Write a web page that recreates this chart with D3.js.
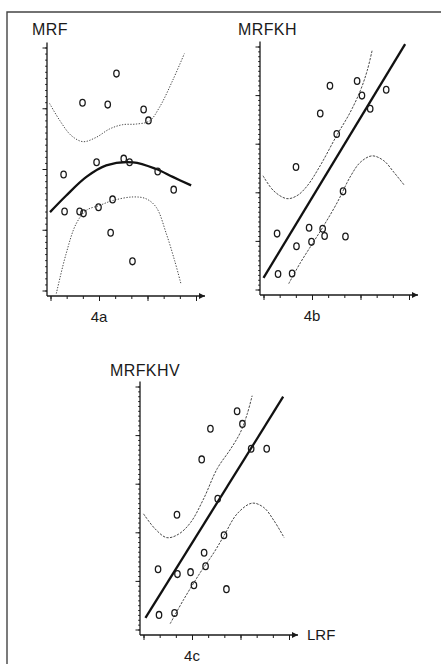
<!DOCTYPE html>
<html>
<head>
<meta charset="utf-8">
<script src="https://cdn.jsdelivr.net/npm/d3@7"></script>
<style>
  html, body { margin: 0; padding: 0; background: #fff; }
  svg { display: block; }
  text { font-family: "Liberation Sans", Arial, Helvetica, sans-serif; fill: #1a1a1a; }
</style>
</head>
<body>
<div id="chart"></div>
<script>
// --- DATA (LRF on x in major-tick units, MR* on y in major-tick units) ---

// 4a : MRF vs LRF
const lrfA = [1.36, 0.66, 1.18, 1.92, 2.02, 0.27, 0.95, 1.51, 1.63, 2.21, 2.54, 0.29, 0.60, 0.68, 0.99, 1.28, 1.24, 1.69];
const mrfA = [3.57, 3.09, 3.06, 2.98, 2.80, 1.91, 2.11, 2.17, 2.11, 1.96, 1.66, 1.30, 1.30, 1.27, 1.37, 1.50, 0.95, 0.48];
const fitA = [[-0.01, 1.29], [0.32, 1.56], [0.74, 1.87], [1.15, 2.06], [1.70, 2.11], [2.18, 2.00], [2.52, 1.87], [2.90, 1.73]];
const upperA = [[-0.02, 3.08], [0.19, 2.80], [0.43, 2.55], [0.67, 2.45], [0.94, 2.52], [1.22, 2.66], [1.49, 2.73],
                [1.77, 2.74], [2.04, 2.79], [2.25, 3.02], [2.52, 3.46], [2.76, 3.90]];
const lowerA = [[0.12, -0.05], [0.32, 0.60], [0.53, 1.10], [0.74, 1.32], [1.01, 1.40], [1.28, 1.48], [1.70, 1.54],
                [1.97, 1.51], [2.18, 1.37], [2.39, 0.93], [2.56, 0.49], [2.69, 0.11]];

// 4b : MRFKH vs LRF
const lrfB = [1.37, 1.93, 2.03, 2.53, 1.17, 2.20, 1.51, 0.67, 1.64, 0.28, 0.94, 1.22, 1.26, 1.69, 0.68, 0.99, 0.30, 0.59];
const mrfB = [4.19, 4.29, 3.99, 4.11, 3.62, 3.72, 3.20, 2.52, 2.02, 1.15, 1.27, 1.25, 1.10, 1.09, 0.89, 0.98, 0.32, 0.33];
const fitB = [[0.00, 0.24], [2.92, 5.05]];
const upperB = [[-0.01, 2.34], [0.21, 2.03], [0.48, 1.87], [0.69, 1.93], [0.90, 2.13], [1.17, 2.55], [1.51, 3.17],
                [1.79, 3.65], [2.00, 4.10], [2.14, 4.51], [2.24, 4.92]];
const lowerB = [[0.52, 0.12], [0.76, 0.55], [1.00, 0.93], [1.24, 1.31], [1.52, 1.79], [1.80, 2.34], [2.00, 2.62],
                [2.24, 2.75], [2.48, 2.65], [2.69, 2.41], [2.90, 2.15]];

// 4c : MRFKHV vs LRF
const lrfC = [1.93, 2.04, 1.38, 2.22, 2.54, 1.20, 1.53, 0.69, 1.66, 1.25, 0.30, 1.28, 0.70, 0.97, 1.04, 1.71, 0.32, 0.64];
const mrfC = [4.49, 4.23, 4.13, 3.72, 3.72, 3.50, 2.69, 2.36, 1.94, 1.58, 1.24, 1.30, 1.14, 1.18, 0.91, 0.83, 0.30, 0.34];
const fitC = [[0.04, 0.24], [2.88, 4.79]];
const upperC = [[0.00, 2.38], [0.24, 2.07], [0.48, 1.89], [0.72, 1.96], [0.97, 2.20], [1.24, 2.69], [1.52, 3.31],
                [1.80, 3.72], [2.00, 4.06], [2.14, 4.44], [2.24, 4.81]];
const lowerC = [[0.55, 0.12], [0.83, 0.62], [1.17, 1.17], [1.45, 1.58], [1.66, 1.93], [1.93, 2.38], [2.24, 2.60],
                [2.48, 2.51], [2.69, 2.24], [2.90, 1.89]];

// --- SETUP ---
const W = 441, H = 664;
const svg = d3.select("#chart").append("svg")
    .attr("width", W)
    .attr("height", H);

// frame (top and left edge only, like the scan)
svg.append("path")
    .attr("d", `M7,${H}V12H${W}`)
    .attr("fill", "none")
    .attr("stroke", "#444")
    .attr("stroke-width", 1.4);

// arrow head for x axes
svg.append("defs").append("marker")
    .attr("id", "arrow")
    .attr("viewBox", "0 0 10 10")
    .attr("refX", 10).attr("refY", 5)
    .attr("markerWidth", 8).attr("markerHeight", 6)
    .attr("markerUnits", "userSpaceOnUse")
    .attr("orient", "auto")
    .append("path")
    .attr("d", "M0,0L10,5L0,10Z")
    .attr("fill", "#1a1a1a");

const panels = [
    { ox: 47, oy: 296, yMajors: 4, title: "MRF", titleX: 32, titleY: 35, tag: "4a",
      xs: lrfA, ys: mrfA, fit: fitA, upper: upperA, lower: lowerA, dash: "1.3,1.5" },
    { ox: 260, oy: 295, yMajors: 5, title: "MRFKH", titleX: 238, titleY: 35, tag: "4b",
      xs: lrfB, ys: mrfB, fit: fitB, upper: upperB, lower: lowerB, dash: "2.4,1.3" },
    { ox: 140, oy: 635, yMajors: 5, title: "MRFKHV", titleX: 110, titleY: 376, tag: "4c",
      xs: lrfC, ys: mrfC, fit: fitC, upper: upperC, lower: lowerC, dash: "2.4,1.3", xLabel: "LRF" }
];

panels.forEach(drawPanel);

function drawPanel(p) {
    const g = svg.append("g");

    const x = d3.scaleLinear()
        .domain([0, 3])
        .range([p.ox + 3.5, p.ox + 3.5 + 145.5]);

    const y = d3.scaleLinear()
        .domain([0, p.yMajors])
        .range([p.oy - 5.5, p.oy - 5.5 - 243]);

    // y axis: dense minor ticks + major ticks
    const yMinor = d3.range(0, p.yMajors + 0.001, 0.1).map(v => +v.toFixed(2));
    g.append("g")
        .attr("transform", `translate(${p.ox},0)`)
        .call(d3.axisLeft(y).tickValues(yMinor).tickSize(1.8).tickFormat(""))
        .call(a => a.select(".domain").remove());
    g.append("g")
        .attr("transform", `translate(${p.ox},0)`)
        .call(d3.axisLeft(y).tickValues(d3.range(0, p.yMajors + 1)).tickSize(4.5).tickFormat(""))
        .call(a => a.select(".domain").remove());

    // x axis: minor ticks every 1/3, majors every unit
    const xMinor = d3.range(0, 10).map(i => i / 3);
    g.append("g")
        .attr("transform", `translate(0,${p.oy})`)
        .call(d3.axisBottom(x).tickValues(xMinor).tickSize(3).tickFormat(""))
        .call(a => a.select(".domain").remove());
    g.append("g")
        .attr("transform", `translate(0,${p.oy})`)
        .call(d3.axisBottom(x).tickValues([0, 1, 2, 3]).tickSize(5).tickFormat(""))
        .call(a => a.select(".domain").remove());

    g.selectAll(".tick line")
        .attr("stroke", "#1a1a1a")
        .attr("stroke-width", 1);

    // axis lines
    g.append("line")
        .attr("x1", p.ox).attr("x2", p.ox)
        .attr("y1", p.oy).attr("y2", y(p.yMajors) - 5)
        .attr("stroke", "#1a1a1a")
        .attr("stroke-width", 1.3);
    g.append("line")
        .attr("x1", p.ox).attr("x2", p.ox + 158)
        .attr("y1", p.oy).attr("y2", p.oy)
        .attr("stroke", "#1a1a1a")
        .attr("stroke-width", 1.3)
        .attr("marker-end", "url(#arrow)");

    const line = d3.line()
        .x(d => x(d[0]))
        .y(d => y(d[1]))
        .curve(d3.curveCatmullRom.alpha(0.5));

    // confidence bands
    [p.upper, p.lower].forEach(band => {
        g.append("path")
            .attr("d", line(band))
            .attr("fill", "none")
            .attr("stroke", "#333")
            .attr("stroke-width", 0.9)
            .attr("stroke-dasharray", p.dash);
    });

    // regression curve
    g.append("path")
        .attr("d", line(p.fit))
        .attr("fill", "none")
        .attr("stroke", "#111")
        .attr("stroke-width", 2.3);

    // observations, drawn as small open ovals
    g.selectAll(".pt")
        .data(p.xs.map((v, i) => [v, p.ys[i]]))
        .enter().append("ellipse")
        .attr("class", "pt")
        .attr("cx", d => x(d[0]))
        .attr("cy", d => y(d[1]))
        .attr("rx", 2.7)
        .attr("ry", 3.4)
        .attr("fill", "none")
        .attr("stroke", "#1a1a1a")
        .attr("stroke-width", 1.3);

    // labels
    g.append("text")
        .attr("x", p.titleX)
        .attr("y", p.titleY)
        .style("font-size", "16px")
        .style("letter-spacing", "0.4px")
        .text(p.title);

    g.append("text")
        .attr("x", x(1))
        .attr("y", p.oy + 26)
        .attr("text-anchor", "middle")
        .style("font-size", "15px")
        .text(p.tag);

    if (p.xLabel) {
        g.append("text")
            .attr("x", p.ox + 167)
            .attr("y", p.oy + 5)
            .style("font-size", "15px")
            .text(p.xLabel);
    }
}
</script>
</body>
</html>
